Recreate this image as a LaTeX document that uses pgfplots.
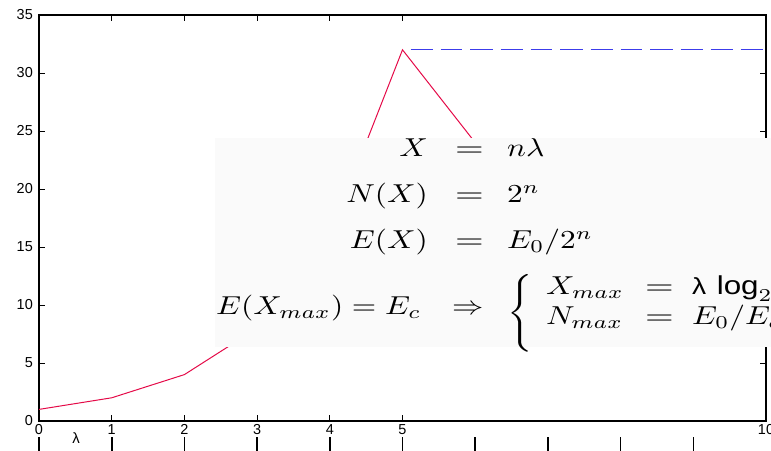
\documentclass[border=0pt]{standalone}
\usepackage{graphicx}
\usepackage{fontspec}
\setmainfont{Liberation Sans}
\usepackage{pgfplots}
\pgfplotsset{compat=1.18}
\definecolor{redline}{RGB}{228,10,72}
\definecolor{blueline}{RGB}{60,60,235}
\definecolor{boxfill}{RGB}{250,250,250}
\newcommand{\eq}[1]{\scalebox{3.15}[2.6]{\fontsize{10}{12}\selectfont$#1$}}
\newcommand{\eqs}[1]{\scalebox{3.7}[2.6]{\fontsize{10}{12}\selectfont$#1$}}
\begin{document}
\begin{tikzpicture}
\path[use as bounding box] (0,0) rectangle (771bp,451bp);
\clip (0,0) rectangle (771bp,451bp);
\begin{axis}[
  at={(39bp,30bp)}, anchor=south west,
  scale only axis, width=727bp, height=406bp,
  xmin=0, xmax=10, ymin=0, ymax=35,
  xtick={0,1,2,3,4,5,10},
  ytick={0,5,...,35},
  xtick pos=both, ytick pos=both,
  xticklabel pos=left, yticklabel pos=left,
  tick align=inside,
  major tick length=6bp,
  axis line style={line width=1.2bp},
  every tick/.style={black, line width=0.8bp},
  /pgf/number format/assume math mode=true,
  tick label style={font=\fontsize{14.5}{16}\selectfont},
  xticklabel style={anchor=north, inner sep=0pt, yshift=-3.5bp},
  yticklabel style={anchor=east, inner sep=0pt, xshift=-6bp},
  clip=false,
  unbounded coords=jump,
]
% saturation level E_c reached: N = 32 for x >= 5 (drawn as dashes)
\addplot[draw=blueline, line width=1.3bp] coordinates {
  (5.110,32) (5.413,32) (5.45,nan)
  (5.523,32) (5.825,32) (5.86,nan)
  (5.935,32) (6.238,32) (6.27,nan)
  (6.348,32) (6.651,32) (6.68,nan)
  (6.761,32) (7.063,32) (7.10,nan)
  (7.173,32) (7.476,32) (7.51,nan)
  (7.586,32) (7.889,32) (7.92,nan)
  (7.999,32) (8.301,32) (8.33,nan)
  (8.411,32) (8.714,32) (8.75,nan)
  (8.824,32) (9.127,32) (9.16,nan)
  (9.237,32) (9.540,32) (9.57,nan)
  (9.650,32) (9.952,32)
};
\addplot[draw=redline, line width=1bp] coordinates {(0,1) (1,2) (2,4) (3,8) (4,16) (5,32) (6,24)};
\pgfplotsinvokeforeach{0,...,9}{
  \draw[black, line width=1.6bp] (axis cs:#1,-1.38) -- (axis cs:#1,-2.8);
}
\node[font=\fontsize{15}{16}\selectfont, inner sep=0pt] at (axis cs:0.51,-1.45) {λ};
\end{axis}
% equation panel
\fill[boxfill] (215bp,104bp) rectangle (800bp,313bp);
\begin{scope}[every node/.style={inner sep=0pt}]
% row 1
\node[anchor=base east] at (428bp,294bp) {\eq{X}};
\node[anchor=base west] at (455bp,294bp) {\eqs{=}};
\node[anchor=base west] at (507bp,294bp) {\eq{n\lambda}};
% row 2
\node[anchor=base east] at (428bp,248bp) {\eq{N(X)}};
\node[anchor=base west] at (455bp,248bp) {\eqs{=}};
\node[anchor=base west] at (507bp,248bp) {\eq{2^n}};
% row 3
\node[anchor=base east] at (428bp,202bp) {\eq{E(X)}};
\node[anchor=base west] at (455bp,202bp) {\eqs{=}};
\node[anchor=base west] at (507bp,202bp) {\eq{E_0/2^n}};
% row 4
\node[anchor=base west] at (216bp,136bp) {\eq{E(X_{max}) = E_c}};
\node[anchor=base west] at (452bp,136bp) {\eq{\Rightarrow}};
\node[anchor=center] at (522bp,137.5bp) {\eq{\left\{\vcenter{\hbox{\vrule height 28pt width 0pt}}\right.}};
\node[anchor=base west] at (546bp,156bp) {\eq{X_{max}}};
\node[anchor=base west] at (645bp,156bp) {\eqs{=}};
\node[anchor=base west] at (692bp,156bp) {\eq{\mbox{\fontsize{9}{11}\selectfont λ}\,\log_2(E_0/E_c)}};
\node[anchor=base west] at (546bp,126bp) {\eq{N_{max}}};
\node[anchor=base west] at (645bp,126bp) {\eqs{=}};
\node[anchor=base west] at (692bp,126bp) {\eq{E_0/E_c}};
\end{scope}
\end{tikzpicture}
\end{document}
